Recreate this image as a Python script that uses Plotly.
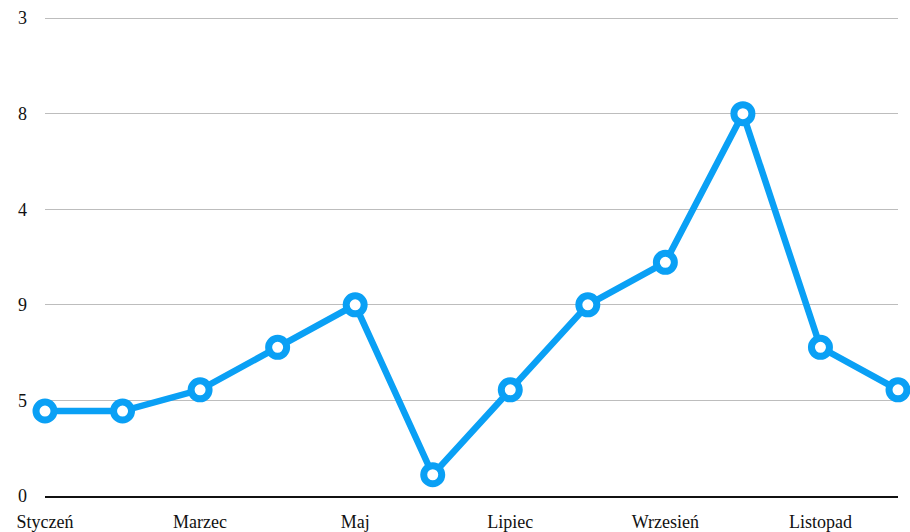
import plotly.graph_objects as go

months = ["Styczeń", "Luty", "Marzec", "Kwiecień", "Maj", "Czerwiec",
          "Lipiec", "Sierpień", "Wrzesień", "Październik", "Listopad", "Grudzień"]
values = [4, 4, 5, 7, 9, 1, 5, 9, 11, 18, 7, 5]
x_tick_labels = months[::2]
y_tick_vals = [0, 4.5, 9, 13.5, 18, 22.5]
y_tick_text = ["0", "5", "9", "4", "8", "3"]

BLUE = "#0aa0f5"

fig = go.Figure(go.Scatter(
    x=months, y=values, mode="lines+markers",
    line=dict(color=BLUE, width=6.5),
    marker=dict(size=18, color="white", line=dict(color=BLUE, width=7)),
    cliponaxis=False,
))

fig.update_layout(
    width=910, height=532,
    margin=dict(l=45, r=12, t=17, b=36, autoexpand=False),
    plot_bgcolor="white", paper_bgcolor="white",
    showlegend=False,
    font=dict(family="Times New Roman", size=18, color="#111"),
)
fig.update_xaxes(
    type="category", range=[0, 11], automargin=False,
    tickvals=x_tick_labels, ticktext=x_tick_labels,
    showgrid=False, showline=True, linecolor="#111", linewidth=1.5,
    ticks="", ticklabelstandoff=9, zeroline=False,
)
fig.update_yaxes(
    range=[0, 22.55], tickvals=y_tick_vals, ticktext=y_tick_text, automargin=False,
    showgrid=True, gridcolor="#bdbdbd", gridwidth=1.2,
    showline=False, zeroline=False, ticks="", ticklabelstandoff=17,
)

fig.write_html(
    "out.html",
    config={"displayModeBar": False},
    post_script="document.body.style.margin='0';document.body.style.overflow='hidden';",
)
